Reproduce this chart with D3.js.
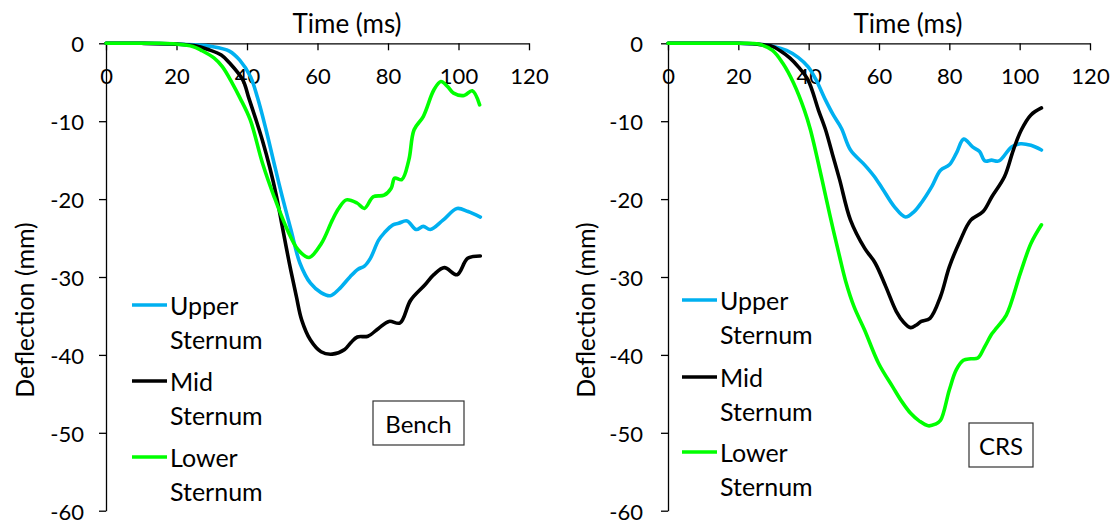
<!DOCTYPE html>
<html><head><meta charset="utf-8">
<script src="https://cdn.jsdelivr.net/npm/d3@7"></script>
<style>body{margin:0;background:#fff}svg{display:block}text{font-family:Lato,"Open Sans",sans-serif;fill:#000}</style>
</head><body><svg id="c" width="1115" height="524"></svg>
<script>
const xTicks=[0,20,40,60,80,100,120];
const yTicks=[0,-10,-20,-30,-40,-50,-60];
const seriesNames=["Upper Sternum","Mid Sternum","Lower Sternum"];
const seriesColors=["#00b0f0","#000000","#00ff00"];

// Bench
const benchUpperT=[0,10,20,25,30,35,38,41,43,45.4,48,50,52.5,55,58,61,63.6,66,69.2,71.5,73.3,75,77.3,79,81.4,83,85.4,88,90,92,95.6,99.6,102.7,106.2];
const benchUpperV=[0,0,-0.1,-0.2,-0.4,-1.0,-2.2,-4.3,-7,-11.1,-16,-19.7,-24,-28.2,-30.8,-32,-32.4,-31.6,-30,-29,-28.6,-27.6,-25.3,-24.3,-23.3,-23.1,-22.8,-23.9,-23.5,-23.9,-22.7,-21.2,-21.6,-22.3];
const benchMidT=[0,10,20,25,29,32.7,35,38.8,40.5,42.4,44.4,46.5,48.4,50,52,54,55.5,58,61,64.2,67.7,69.5,71.3,74.3,77.3,80.3,83.4,86.4,90.5,93,96,99.6,102.6,106.2];
const benchMidV=[0,0,-0.1,-0.3,-0.8,-1.5,-2.5,-4.7,-7,-9.6,-12.5,-16,-19.7,-23.5,-28.2,-32.5,-35.5,-38.1,-39.6,-39.9,-39.3,-38.4,-37.7,-37.6,-36.6,-35.7,-35.9,-33,-31,-29.7,-28.8,-29.7,-27.6,-27.3];
const benchLowerT=[0,10,15,20,24.6,27,30.7,33,35.8,38,40.9,44.4,47.7,51.5,54.5,57.6,61.1,64.2,66,68.2,71.2,73.3,75.8,78.9,80.9,81.9,83.9,85.9,87.4,90,93,95,97,98.6,101.6,103.9,106];
const benchLowerV=[0,0,0,-0.1,-0.4,-0.9,-1.9,-3,-5.1,-7,-9.8,-15.4,-19.7,-24,-26.5,-27.5,-25.7,-22.7,-21.2,-20.1,-20.5,-21.2,-19.7,-19.5,-18.6,-17.3,-17.5,-15,-11.1,-9.4,-6,-4.9,-5.6,-6.4,-6.7,-6.1,-7.9];

// CRS
const crsUpperT=[0,10,20,25,30,33.7,37,39.8,42,44.8,47,49.3,51.9,55.9,58.5,60.9,64.4,67.5,70,72,75,77.5,80,82,84.1,86.6,88.6,90.1,92,94.1,97.7,100.2,103.2,106.2];
const crsUpperV=[0,0,0,-0.1,-0.4,-0.9,-1.8,-3,-4.6,-7.3,-9.2,-10.9,-13.7,-15.6,-17,-18.6,-21,-22.3,-21.6,-20.5,-18.4,-16.3,-15.6,-14.1,-12.3,-13.3,-13.9,-15.1,-15.0,-15.1,-13.3,-12.9,-13.1,-13.7];
const crsMidT=[0,10,20,25,29.7,32,34.7,37,39.8,42.8,44.8,46.8,48.8,51.9,55.9,58.9,61.9,64.9,67,69,70.5,72,74.5,77.5,80,83.1,86.1,89.6,92.1,95.7,98.2,100.5,103.2,106.2];
const crsMidV=[0,0,0,-0.1,-0.4,-1,-1.9,-3,-4.7,-8.6,-11.1,-14.3,-17.5,-22.7,-26.3,-28.2,-31.2,-34.4,-35.8,-36.5,-36.2,-35.7,-35.3,-32.5,-28.7,-25.3,-22.7,-21.6,-19.7,-17.1,-13.7,-11.1,-9.2,-8.3];
const crsLowerT=[0,10,20,25.7,29.7,32.7,35.7,38.8,40.5,43.8,46,48.8,50.5,52.9,55.9,59.9,63.9,66.5,69,71.5,74,76,77.5,80,82,84,86.1,88.1,90,92.1,93.5,96.2,100.2,103.2,106.2];
const crsLowerV=[0,0,0,-0.1,-0.9,-2.6,-5.1,-8.6,-11.1,-17.5,-22,-27.4,-30.5,-33.8,-36.8,-41.1,-44.1,-46,-47.5,-48.5,-49.1,-48.9,-48.4,-44.5,-41.9,-40.7,-40.5,-40.4,-39,-37.3,-36.5,-34.9,-29.5,-25.7,-23.3];

const panels=[
  {x0:106,x1:529,label:"Bench",box:[373,401,91,44],title:347,ytitle:24,tickRight:84,legX:132,
   series:[[benchUpperT,benchUpperV],[benchMidT,benchMidV],[benchLowerT,benchLowerV]],legY:[305,381,457]},
  {x0:668,x1:1090,label:"CRS",box:[969,423,64,44],title:908,ytitle:585,tickRight:643,legX:682,
   series:[[crsUpperT,crsUpperV],[crsMidT,crsMidV],[crsLowerT,crsLowerV]],legY:[300,377,452]}
];
const svg=d3.select("#c");
svg.append("rect").attr("width",1115).attr("height",524).attr("fill","#fff");
const yTop=43.3,yBot=510.7;
panels.forEach(p=>{
  const x=d3.scaleLinear().domain([0,120]).range([p.x0,p.x1]);
  const y=d3.scaleLinear().domain([0,-60]).range([yTop,yBot]);
  const g=svg.append("g");
  const xa=g.append("g").attr("transform",`translate(0,${y(0)})`)
    .call(d3.axisBottom(x).tickValues(xTicks).tickSize(7).tickSizeOuter(0).tickPadding(0).tickFormat(d3.format("d")));
  xa.select(".domain").attr("stroke","#000").attr("stroke-width",1.3);
  xa.selectAll(".tick line").attr("stroke","#000").attr("stroke-width",1.3);
  xa.selectAll(".tick text").attr("y",32).attr("dy",0).attr("dominant-baseline","central").style("font-size","22px").style("font-family","Lato");
  const ya=g.append("g").attr("transform",`translate(${p.x0},0)`)
    .call(d3.axisLeft(y).tickValues(yTicks).tickSize(7).tickSizeOuter(0).tickFormat(d3.format("d")));
  ya.select(".domain").attr("stroke","#000").attr("stroke-width",1.3);
  ya.selectAll(".tick line").attr("stroke","#000").attr("stroke-width",1.3);
  ya.selectAll(".tick text").attr("x",p.tickRight-p.x0).attr("dy",0).attr("dominant-baseline","central").style("font-size","22px").style("font-family","Lato");
  ya.selectAll(".tick text").text(d=>d===0?"0":"-"+Math.abs(d));
  g.append("text").attr("x",p.title).attr("y",23).attr("text-anchor","middle").attr("dominant-baseline","central").style("font-size","26px").text("Time (ms)");
  g.append("text").attr("transform",`translate(${p.ytitle},310) rotate(-90)`).attr("text-anchor","middle").attr("dominant-baseline","central").style("font-size","25px").text("Deflection (mm)");
  const line=d3.line().x(d=>x(d[0])).y(d=>y(d[1])).curve(d3.curveCatmullRom.alpha(0.5));
  p.series.forEach((s,i)=>{
    const pts=s[0].map((t,k)=>[t,s[1][k]]);
    g.append("path").datum(pts).attr("d",line).attr("fill","none").attr("stroke",seriesColors[i]).attr("stroke-width",3.6).attr("stroke-linejoin","round").attr("stroke-linecap","round");
  });
  seriesNames.forEach((n,i)=>{
    const ly=p.legY[i];
    g.append("line").attr("x1",p.legX).attr("x2",p.legX+35).attr("y1",ly).attr("y2",ly).attr("stroke",seriesColors[i]).attr("stroke-width",3.6);
    const parts=n.split(" ");
    parts.forEach((w,k)=>{
      g.append("text").attr("x",p.legX+38).attr("y",ly+k*34).attr("dominant-baseline","central").style("font-size","25px").text(w);
    });
  });
  const b=p.box;
  g.append("rect").attr("x",b[0]).attr("y",b[1]).attr("width",b[2]).attr("height",b[3]).attr("fill","#fff").attr("stroke","#333").attr("stroke-width",1.2);
  g.append("text").attr("x",b[0]+b[2]/2).attr("y",b[1]+b[3]/2).attr("text-anchor","middle").attr("dominant-baseline","central").style("font-size","24px").text(p.label);
});
</script></body></html>
